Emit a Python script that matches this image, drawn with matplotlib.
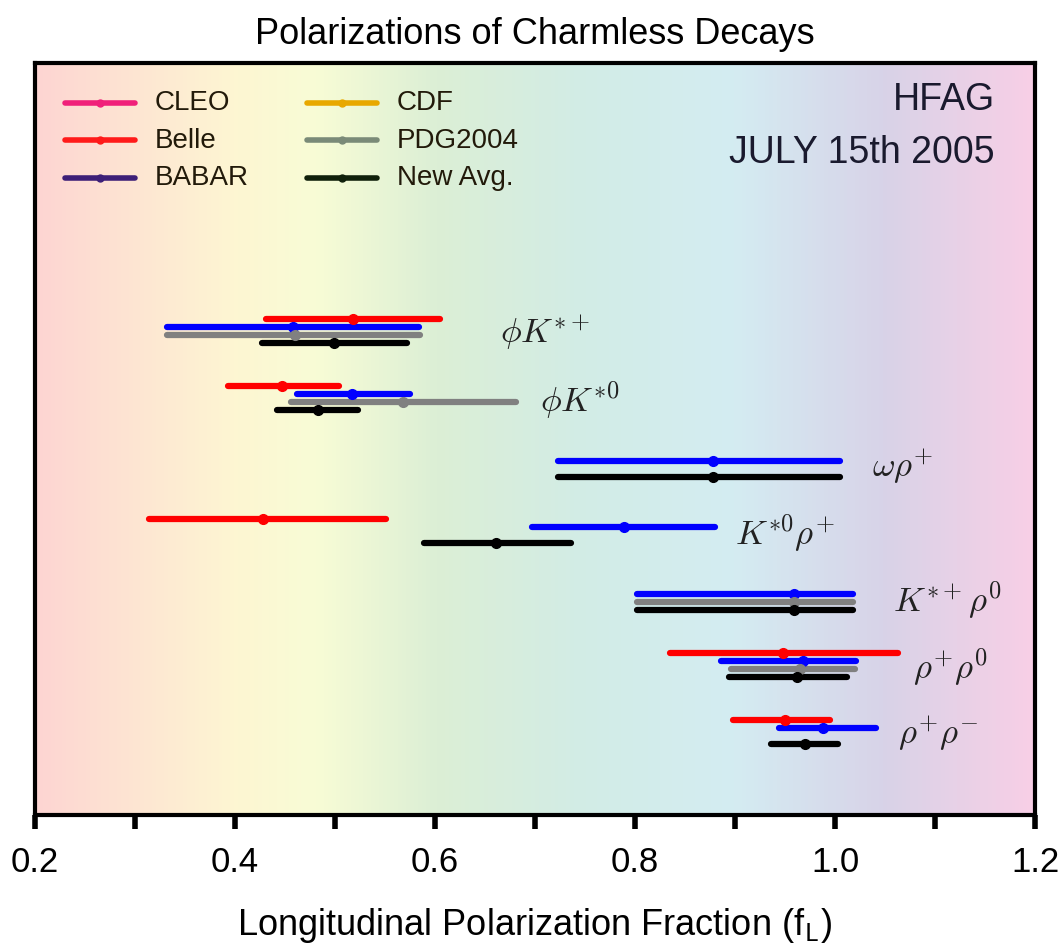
import numpy as np
import matplotlib.pyplot as plt
from matplotlib.colors import LinearSegmentedColormap

plt.rcParams['font.family'] = ['Liberation Sans', 'DejaVu Sans']
plt.rcParams['mathtext.fontset'] = 'cm'

modes = [r'$\phi K^{*+}$', r'$\phi K^{*0}$', r'$\omega\rho^{+}$', r'$K^{*0}\rho^{+}$',
         r'$K^{*+}\rho^{0}$', r'$\rho^{+}\rho^{0}$', r'$\rho^{+}\rho^{-}$']
label_x = [0.665, 0.705, 1.037, 0.900, 1.058, 1.078, 1.063]

# measurements: (mode index, experiment, value, low, high)
meas = [
    (0, 'Belle', 0.518, 0.431, 0.605),
    (0, 'BABAR', 0.458, 0.332, 0.584),
    (0, 'PDG2004', 0.46, 0.332, 0.585),
    (0, 'New Avg.', 0.499, 0.427, 0.572),
    (1, 'Belle', 0.447, 0.393, 0.504),
    (1, 'BABAR', 0.517, 0.462, 0.575),
    (1, 'PDG2004', 0.568, 0.456, 0.681),
    (1, 'New Avg.', 0.483, 0.442, 0.523),
    (2, 'BABAR', 0.878, 0.723, 1.005),
    (2, 'New Avg.', 0.878, 0.723, 1.005),
    (3, 'Belle', 0.428, 0.314, 0.551),
    (3, 'BABAR', 0.789, 0.697, 0.880),
    (3, 'New Avg.', 0.661, 0.589, 0.736),
    (4, 'BABAR', 0.959, 0.802, 1.018),
    (4, 'PDG2004', 0.959, 0.802, 1.018),
    (4, 'New Avg.', 0.959, 0.802, 1.018),
    (5, 'Belle', 0.948, 0.835, 1.063),
    (5, 'BABAR', 0.968, 0.886, 1.021),
    (5, 'PDG2004', 0.965, 0.896, 1.020),
    (5, 'New Avg.', 0.962, 0.894, 1.012),
    (6, 'Belle', 0.950, 0.898, 0.995),
    (6, 'BABAR', 0.988, 0.944, 1.041),
    (6, 'New Avg.', 0.970, 0.936, 1.003),
]
# vertical layout in axis units (0 top .. 752 bottom)
row_y = [264, 331, 398, 464, 531, 598, 665]
offset = {'Belle': -8, 'BABAR': 0, 'PDG2004': 8, 'New Avg.': 16}
colors = {'Belle': '#ff0000', 'BABAR': '#0000ff', 'PDG2004': '#808080', 'New Avg.': '#000000'}

legend_items = [('CLEO', '#f0207a'), ('Belle', '#ff1a1a'), ('BABAR', '#3d1f78'),
                ('CDF', '#e8a800'), ('PDG2004', '#7a8a78'), ('New Avg.', '#10200a')]

fig = plt.figure(figsize=(10.63, 9.46), dpi=100)
ax = fig.add_axes([35/1063, 1-815/946, 1000/1063, 752/946])
xmin, xmax, ybot, ytop = 0.2, 1.2, 752, 0

bg = LinearSegmentedColormap.from_list('bg', [
    (0.0, '#fdd5d3'), (0.2, '#fdf6d2'), (0.28, '#f8fcd6'), (0.4, '#dcefd5'),
    (0.55, '#d2ece6'), (0.7, '#d4ecf2'), (0.85, '#d8d3e8'), (1.0, '#f8cfe6')])
ax.imshow(np.linspace(0, 1, 256)[None, :], cmap=bg, aspect='auto',
          extent=[xmin, xmax, ybot, ytop], zorder=0)

for i, exp, v, lo, hi in meas:
    y = row_y[i] + offset[exp]
    ax.plot([lo, hi], [y, y], color=colors[exp], lw=4.5, solid_capstyle='round', zorder=2)
    ax.plot(v, y, 'o', color=colors[exp], ms=7, zorder=3)

for name, lx, y in zip(modes, label_x, row_y):
    ax.text(lx, y + 6, name, fontsize=25, ha='left', va='center', color='#222222')

# legend drawn by hand
for k, (name, c) in enumerate(legend_items):
    col, r = divmod(k, 3)
    x0 = 0.23 + col * 0.242
    y = 40 + r * 37.5
    ax.plot([x0, x0 + 0.07], [y, y], color=c, lw=4, solid_capstyle='round')
    ax.plot(x0 + 0.035, y, 'o', color=c, ms=5)
    ax.text(x0 + 0.09, y, name, fontsize=20, va='center', color='#221a0a')

ax.text(1.16, 37, 'HFAG', fontsize=27, ha='right', va='center', color='#1a1a2e')
ax.text(1.16, 90, 'JULY 15th 2005', fontsize=27, ha='right', va='center', color='#1a1a2e')

ax.set_xlim(xmin, xmax)
ax.set_ylim(ybot, ytop)
ax.set_yticks([])
ax.set_xticks(np.arange(0.2, 1.21, 0.2))
ax.set_xticklabels(['0.2', '0.4', '0.6', '0.8', '1.0', '1.2'], fontsize=25)
ax.set_xticks(np.arange(0.3, 1.2, 0.2), minor=True)
ax.tick_params(axis='x', which='both', direction='out', length=10, width=4, pad=12)
for s in ax.spines.values():
    s.set_linewidth(3)
ax.set_title('Polarizations of Charmless Decays', fontsize=26, pad=14)
ax.set_xlabel('Longitudinal Polarization Fraction (f$_{\\mathsf{L}}$)', fontsize=26, labelpad=20)

fig.savefig('out.png', dpi=100)
